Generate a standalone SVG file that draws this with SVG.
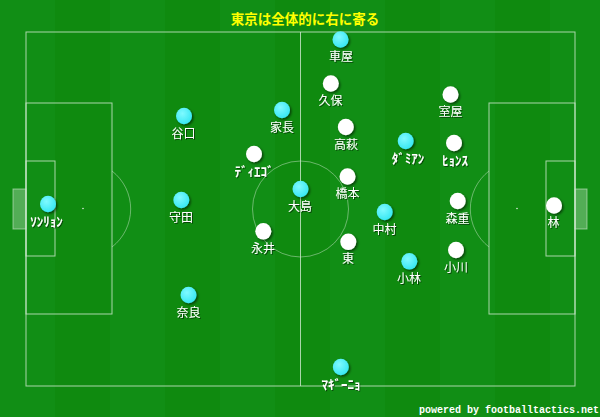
<svg xmlns="http://www.w3.org/2000/svg" width="600" height="417" viewBox="0 0 600 417">
<defs>
<pattern id="grass" x="0" y="0" width="110" height="417" patternUnits="userSpaceOnUse">
<rect x="0" y="0" width="55" height="417" fill="#13911a"/>
<rect x="55" y="0" width="55" height="417" fill="#108b10"/>
</pattern>
<radialGradient id="cyan" cx="0.4" cy="0.35" r="0.7">
<stop offset="0" stop-color="#7ffaff"/>
<stop offset="1" stop-color="#33e6f2"/>
</radialGradient>
<filter id="sh" x="-50%" y="-50%" width="200%" height="200%">
<feDropShadow dx="1.5" dy="1.5" stdDeviation="1" flood-color="#000" flood-opacity="0.55"/>
</filter>
<filter id="tsh" x="-20%" y="-20%" width="140%" height="140%">
<feDropShadow dx="1" dy="1" stdDeviation="0.5" flood-color="#000" flood-opacity="0.5"/>
</filter>
</defs>
<style>
.ln{fill:none;stroke:#cfe8cf;stroke-opacity:0.8;stroke-width:1}
.thin{fill:none;stroke:#cfe8cf;stroke-opacity:0.6;stroke-width:0.8}
.goal{fill:#ffffff;fill-opacity:0.28;stroke:#cfe8cf;stroke-opacity:0.6;stroke-width:1}
.spot{fill:#dfeedf}
.tc{fill:url(#cyan);filter:url(#sh)}
.tw{fill:#ffffff;filter:url(#sh)}
.lb{font-family:"Noto Sans CJK JP","Noto Sans",sans-serif;font-size:12px;fill:#ffffff;text-anchor:middle;filter:url(#tsh)}
.kn{font-size:13px;font-weight:bold}
.title{font-family:"Noto Sans CJK JP","Noto Sans",sans-serif;font-size:13.5px;fill:#ffff00;text-anchor:middle;font-weight:bold}
.foot{font-family:"Liberation Mono","DejaVu Sans Mono",monospace;font-size:10px;fill:#ffffff;font-weight:bold}
</style>
<rect x="0" y="0" width="600" height="417" fill="url(#grass)"/>
<rect x="0" y="0" width="600" height="417" fill="#0e8a0e" opacity="0.4"/>
<g id="pitch">
<rect class="goal" x="13" y="189" width="13" height="40"/>
<rect class="goal" x="575" y="189" width="12" height="40"/>
<rect class="ln" x="26" y="32" width="549" height="354"/>
<line class="ln" x1="300.5" y1="32" x2="300.5" y2="386"/>
<circle class="thin" cx="300.5" cy="209" r="48"/>
<rect class="ln" x="26" y="103" width="86" height="211"/>
<rect class="ln" x="26" y="161" width="29" height="95"/>
<rect class="ln" x="489" y="103" width="86" height="211"/>
<rect class="ln" x="546" y="161" width="29" height="95"/>
<path class="thin" d="M112 171 A48 48 0 0 1 112 247"/>
<path class="thin" d="M489 171 A48 48 0 0 0 489 247"/>
<circle class="spot" cx="83" cy="208.5" r="0.8"/>
<circle class="spot" cx="517" cy="208.5" r="0.8"/>
</g>
<text class="title" x="305" y="23.5">東京は全体的に右に寄る</text>
<g id="tokyo">
<g id="kurumaya"><ellipse class="tc" cx="340.5" cy="39.5" rx="8" ry="8.3"/><text class="lb" x="341" y="61">車屋</text></g>
<g id="taniguchi"><ellipse class="tc" cx="184" cy="116" rx="8" ry="8.3"/><text class="lb" x="183.5" y="137.5">谷口</text></g>
<g id="ienaga"><ellipse class="tc" cx="282" cy="110" rx="8" ry="8.3"/><text class="lb" x="282" y="131.5">家長</text></g>
<g id="sonryon"><ellipse class="tc" cx="48" cy="204" rx="8" ry="8.3"/><text class="lb kn" x="46.5" y="225.5">ｿﾝﾘｮﾝ</text></g>
<g id="morita"><ellipse class="tc" cx="181.3" cy="200" rx="8" ry="8.3"/><text class="lb" x="181" y="221.5">守田</text></g>
<g id="oshima"><ellipse class="tc" cx="300.5" cy="189" rx="8" ry="8.3"/><text class="lb" x="300" y="210.5">大島</text></g>
<g id="damian"><ellipse class="tc" cx="405.7" cy="141" rx="8" ry="8.3"/><text class="lb kn" x="408" y="162.5">ﾀﾞﾐｱﾝ</text></g>
<g id="nakamura"><ellipse class="tc" cx="384.7" cy="212" rx="8" ry="8.3"/><text class="lb" x="384.5" y="233.5">中村</text></g>
<g id="kobayashi"><ellipse class="tc" cx="409.3" cy="261.3" rx="8" ry="8.3"/><text class="lb" x="409" y="282.8">小林</text></g>
<g id="nara"><ellipse class="tc" cx="188.5" cy="295" rx="8" ry="8.3"/><text class="lb" x="188.5" y="316.5">奈良</text></g>
<g id="maginho"><ellipse class="tc" cx="340.8" cy="367" rx="8" ry="8.3"/><text class="lb kn" x="341" y="388.5">ﾏｷﾞｰﾆｮ</text></g>
</g>
<g id="fctokyo">
<g id="kubo"><ellipse class="tw" cx="330.8" cy="83.5" rx="8" ry="8.3"/><text class="lb" x="330.5" y="105">久保</text></g>
<g id="muroya"><ellipse class="tw" cx="450.5" cy="94.5" rx="8" ry="8.3"/><text class="lb" x="450.5" y="116">室屋</text></g>
<g id="takahagi"><ellipse class="tw" cx="345.8" cy="127" rx="8" ry="8.3"/><text class="lb" x="346" y="148.5">高萩</text></g>
<g id="hyonsu"><ellipse class="tw" cx="454" cy="143" rx="8" ry="8.3"/><text class="lb kn" x="455" y="164.5">ﾋｮﾝｽ</text></g>
<g id="diego"><ellipse class="tw" cx="254" cy="154" rx="8" ry="8.3"/><text class="lb kn" x="254" y="175.5">ﾃﾞｨｴｺﾞ</text></g>
<g id="hashimoto"><ellipse class="tw" cx="347.5" cy="176.5" rx="8" ry="8.3"/><text class="lb" x="347.5" y="198">橋本</text></g>
<g id="morishige"><ellipse class="tw" cx="457.7" cy="201" rx="8" ry="8.3"/><text class="lb" x="457.5" y="222.5">森重</text></g>
<g id="hayashi"><ellipse class="tw" cx="554" cy="205.5" rx="8" ry="8.3"/><text class="lb" x="553.5" y="227">林</text></g>
<g id="nagai"><ellipse class="tw" cx="263.3" cy="231.3" rx="8" ry="8.3"/><text class="lb" x="263" y="252.8">永井</text></g>
<g id="higashi"><ellipse class="tw" cx="348.3" cy="241.8" rx="8" ry="8.3"/><text class="lb" x="348" y="263.3">東</text></g>
<g id="ogawa"><ellipse class="tw" cx="456" cy="250" rx="8" ry="8.3"/><text class="lb" x="456" y="271.5">小川</text></g>
</g>
<text class="foot" x="419" y="413">powered by footballtactics.net</text>
</svg>
